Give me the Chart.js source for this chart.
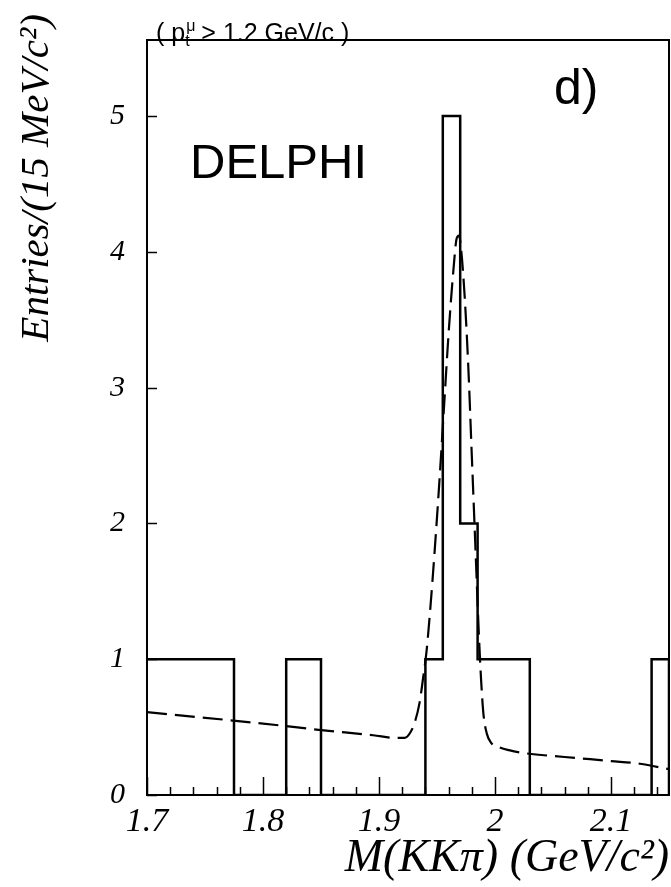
<!DOCTYPE html>
<html>
<head>
<meta charset="utf-8">
<script src="https://cdn.jsdelivr.net/npm/chart.js@4"></script>
<style>
  html, body { margin: 0; padding: 0; background: #fff; }
</style>
</head>
<body>
<canvas id="myChart" width="671" height="887"></canvas>
<script>
// histogram: left edge of every 15 MeV bin and its entries
const binStart = [1.700, 1.715, 1.730, 1.745, 1.760, 1.775, 1.790, 1.805, 1.820, 1.835,
                  1.850, 1.865, 1.880, 1.895, 1.910, 1.925, 1.940, 1.955, 1.970, 1.985,
                  2.000, 2.015, 2.030, 2.045, 2.060, 2.075, 2.090, 2.105, 2.120, 2.135];
const entries  = [1, 1, 1, 1, 1, 0, 0, 0, 1, 1,
                  0, 0, 0, 0, 0, 0, 1, 5, 2, 1,
                  1, 1, 0, 0, 0, 0, 0, 0, 0, 1];
const binEnd = 2.150;

// fitted curve (dashed)
const fitMass  = [1.700, 1.772, 1.817, 1.848, 1.895, 1.915, 1.922, 1.927, 1.931, 1.935,
                  1.938, 1.941, 1.944, 1.948, 1.952, 1.956, 1.960, 1.964, 1.967, 1.969,
                  1.971, 1.974, 1.977, 1.980, 1.983, 1.986, 1.988, 1.990, 1.993, 1.997,
                  2.004, 2.012, 2.024, 2.060, 2.100, 2.125, 2.150];
const fitValue = [0.61, 0.55, 0.51, 0.48, 0.44, 0.42, 0.42, 0.46, 0.54, 0.68,
                  0.86, 1.06, 1.35, 1.80, 2.30, 2.85, 3.40, 3.85, 4.10, 4.12,
                  4.00, 3.65, 3.15, 2.50, 1.85, 1.20, 0.85, 0.60, 0.45, 0.38,
                  0.35, 0.33, 0.31, 0.28, 0.25, 0.23, 0.19];

const xTickValues = [1.7, 1.8, 1.9, 2.0, 2.1];
const xTickLabels = ['1.7', '1.8', '1.9', '2', '2.1'];
const yTickValues = [0, 1, 2, 3, 4, 5];
const yTickLabels = ['0', '1', '2', '3', '4', '5'];

const serifItalic = (size) => ({ family: 'Liberation Serif', size: size, style: 'italic', lineHeight: 1.2 });

let histPoints = binStart.map((m, i) => ({ x: m, y: entries[i] }));
histPoints.push({ x: binEnd, y: entries[entries.length - 1] });
histPoints.push({ x: binEnd, y: 0 });
const fitPoints = fitMass.map((m, i) => ({ x: m, y: fitValue[i] }));

// frame, inward ticks, y title and the labels inside the plot
const decorations = {
    id: 'decorations',
    afterDraw(chart) {
        const ctx = chart.ctx;
        const a = chart.chartArea;
        const xs = chart.scales.x;
        const ys = chart.scales.y;
        ctx.save();
        ctx.strokeStyle = '#000';
        ctx.lineWidth = 2;
        ctx.strokeRect(a.left, a.top, a.right - a.left, a.bottom - a.top);

        ctx.lineWidth = 1.5;
        ctx.beginPath();
        for (let k = 0; k <= 22; k++) {
            const px = Math.round(xs.getPixelForValue(1.7 + k * 0.02)) + 0.5;
            ctx.moveTo(px, a.bottom);
            ctx.lineTo(px, a.bottom - 8);
        }
        xTickValues.forEach(v => {
            const px = Math.round(xs.getPixelForValue(v)) + 0.5;
            ctx.moveTo(px, a.bottom);
            ctx.lineTo(px, a.bottom - 18);
        });
        yTickValues.forEach(v => {
            const py = Math.round(ys.getPixelForValue(v)) + 0.5;
            ctx.moveTo(a.left, py);
            ctx.lineTo(a.left + 10, py);
        });
        ctx.stroke();

        ctx.fillStyle = '#000';
        // y axis title, rotated, ending near the top
        ctx.save();
        ctx.translate(37, 14);
        ctx.rotate(-Math.PI / 2);
        ctx.font = 'italic 41px "Liberation Serif"';
        ctx.textAlign = 'right';
        ctx.textBaseline = 'middle';
        ctx.fillText('Entries/(15 MeV/c\u00b2)', 0, 0);
        ctx.restore();

        ctx.textBaseline = 'alphabetic';
        ctx.textAlign = 'left';
        // ( p_t^mu > 1.2 GeV/c )
        let tx = 156;
        const ty = 41;
        ctx.font = '25px "Liberation Sans"';
        ctx.fillText('( p', tx, ty);
        tx += ctx.measureText('( p').width;
        ctx.font = '16px "Liberation Sans"';
        ctx.fillText('t', tx, ty + 5);
        ctx.fillText('\u03bc', tx + 1, ty - 10);
        tx += ctx.measureText('\u03bc').width;
        ctx.font = '25px "Liberation Sans"';
        ctx.fillText(' > 1.2 GeV/c )', tx, ty);

        ctx.font = '50px "Liberation Sans"';
        ctx.fillText('d)', 554, 104);
        ctx.font = '49px "Liberation Sans"';
        ctx.fillText('DELPHI', 190, 178);
        ctx.restore();
    }
};

new Chart(document.getElementById('myChart'), {
    type: 'line',
    data: {
        datasets: [
            {
                data: histPoints,
                borderColor: '#000',
                borderWidth: 2.5,
                stepped: 'before',
                pointRadius: 0,
                fill: false
            },
            {
                data: fitPoints,
                borderColor: '#000',
                borderWidth: 2.2,
                borderDash: [20, 8],
                cubicInterpolationMode: 'monotone',
                pointRadius: 0,
                fill: false
            }
        ]
    },
    options: {
        responsive: false,
        animation: false,
        devicePixelRatio: 1,
        layout: { padding: { left: 0, right: 2, top: 17, bottom: 0 } },
        plugins: { legend: { display: false }, tooltip: { enabled: false } },
        scales: {
            x: {
                type: 'linear',
                min: 1.7,
                max: 2.15,
                afterBuildTicks: (scale) => { scale.ticks = xTickValues.map(v => ({ value: v })); },
                afterFit: (scale) => { scale.height = 92; },
                grid: { display: false, drawTicks: false },
                border: { display: false },
                ticks: {
                    autoSkip: false,
                    maxRotation: 0,
                    padding: 7,
                    color: '#000',
                    font: serifItalic(34),
                    callback: (v) => xTickLabels[xTickValues.findIndex(t => Math.abs(t - v) < 1e-6)]
                },
                title: {
                    display: true,
                    text: 'M(KK\u03c0) (GeV/c\u00b2)',
                    align: 'end',
                    color: '#000',
                    font: serifItalic(46),
                    padding: { top: 0, bottom: 0 }
                }
            },
            y: {
                type: 'linear',
                min: 0,
                max: 5.56,
                afterBuildTicks: (scale) => { scale.ticks = yTickValues.map(v => ({ value: v })); },
                afterFit: (scale) => { scale.width = 147; },
                grid: { display: false, drawTicks: false },
                border: { display: false },
                ticks: {
                    padding: 22,
                    color: '#000',
                    font: serifItalic(30),
                    callback: (v) => yTickLabels[yTickValues.indexOf(v)]
                },
                title: { display: false }
            }
        }
    },
    plugins: [decorations]
});
</script>
</body>
</html>
